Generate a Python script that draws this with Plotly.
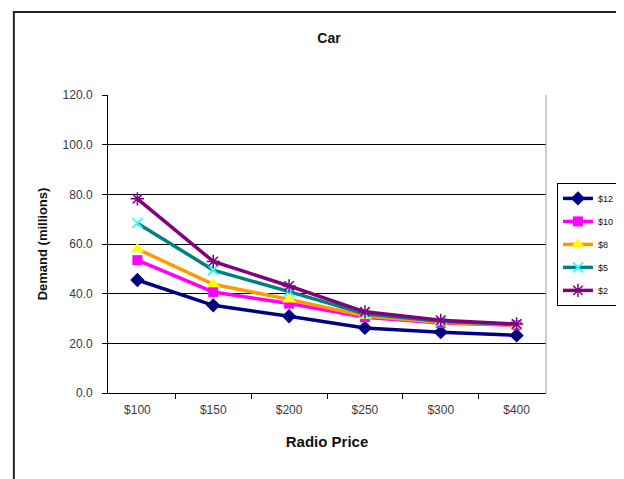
import plotly.graph_objects as go

categories = ["$100", "$150", "$200", "$250", "$300", "$400"]
series_names = ["$12", "$10", "$8", "$5", "$2"]
s12 = [45.5, 35.3, 30.9, 26.2, 24.5, 23.2]
s10 = [53.5, 40.7, 36.0, 30.5, 28.2, 27.3]
s8 = [58.0, 43.8, 37.7, 31.0, 28.5, 27.3]
s5 = [68.4, 49.5, 40.8, 31.9, 28.9, 27.6]
s2 = [78.2, 53.0, 43.1, 32.7, 29.3, 27.8]
y_ticks = [0, 20, 40, 60, 80, 100, 120]

styles = [
    dict(line="#000080", mc="#000080", sym="diamond", size=11, lw=0),
    dict(line="#FF00FF", mc="#FF00FF", sym="square", size=10, lw=0),
    dict(line="#FF9900", mc="#FFFF00", sym="triangle-up", size=12, lw=0),
    dict(line="#008080", mc="#33FFFF", sym="x-thin-open", size=10, lw=2),
    dict(line="#800080", mc="#800080", sym="asterisk-open", size=11, lw=1.5),
]
values = [s12, s10, s8, s5, s2]

fig = go.Figure()
for name, vals, st in zip(series_names, values, styles):
    fig.add_trace(go.Scatter(
        x=categories, y=vals, name=name, mode="lines+markers",
        legendgroup=name,
        line=dict(color=st["line"], width=3.5),
        marker=dict(symbol=st["sym"], size=st["size"], color=st["mc"],
                    line=dict(color=st["mc"], width=st["lw"])),
    ))

font_family = "Liberation Sans, Arial, sans-serif"
tick_color = "#3a3a48"
fig.update_layout(
    width=624, height=479,
    margin=dict(l=100, r=82, t=87, b=94),
    paper_bgcolor="white", plot_bgcolor="white",
    font=dict(family=font_family, color="#222222"),
    title=dict(text="<b>Car</b>", x=321 / 624, xanchor="center",
               y=1 - 30 / 479, yanchor="middle", font=dict(size=14, color="#111111")),
    showlegend=True,
    legend=dict(x=1.025, xanchor="left", y=0.705, yanchor="top",
                bordercolor="#000000", borderwidth=1, bgcolor="white",
                font=dict(size=9, color="#111111"), tracegroupgap=4,
                itemwidth=30),
    xaxis=dict(
        type="category", showline=True, linecolor="#000000", linewidth=1,
        ticks="outside", tickson="boundaries", ticklen=5, tickcolor="#000000",
        showgrid=False, mirror=False, ticklabelstandoff=6,
        tickfont=dict(size=12, color=tick_color, family=font_family),
        title=dict(text="<b>Radio Price</b>", font=dict(size=15, color="#111111"), standoff=20),
    ),
    yaxis=dict(
        range=[0, 120], tickvals=y_ticks, ticktext=[f"{v:.1f}" for v in y_ticks],
        showline=True, linecolor="#000000", linewidth=1,
        ticks="outside", ticklen=5, tickcolor="#000000", ticklabelstandoff=7,
        showgrid=True, gridcolor="#000000", gridwidth=1, zeroline=False,
        tickfont=dict(size=12, color=tick_color, family=font_family),
        title=dict(text="<b>Demand (millions)</b>", font=dict(size=13, color="#111111"), standoff=12),
    ),
)
# right plot border (gray)
fig.add_shape(type="line", xref="paper", yref="paper", x0=1, x1=1, y0=0, y1=1,
              line=dict(color="#999999", width=1))
# outer chart border
fig.add_shape(type="rect", xref="paper", yref="paper",
              x0=(5 - 100) / 442, x1=1.25, y0=-0.4, y1=1 + (87 - 4) / 298,
              line=dict(color="#222222", width=2), layer="below")

fig.write_html("out.html")
